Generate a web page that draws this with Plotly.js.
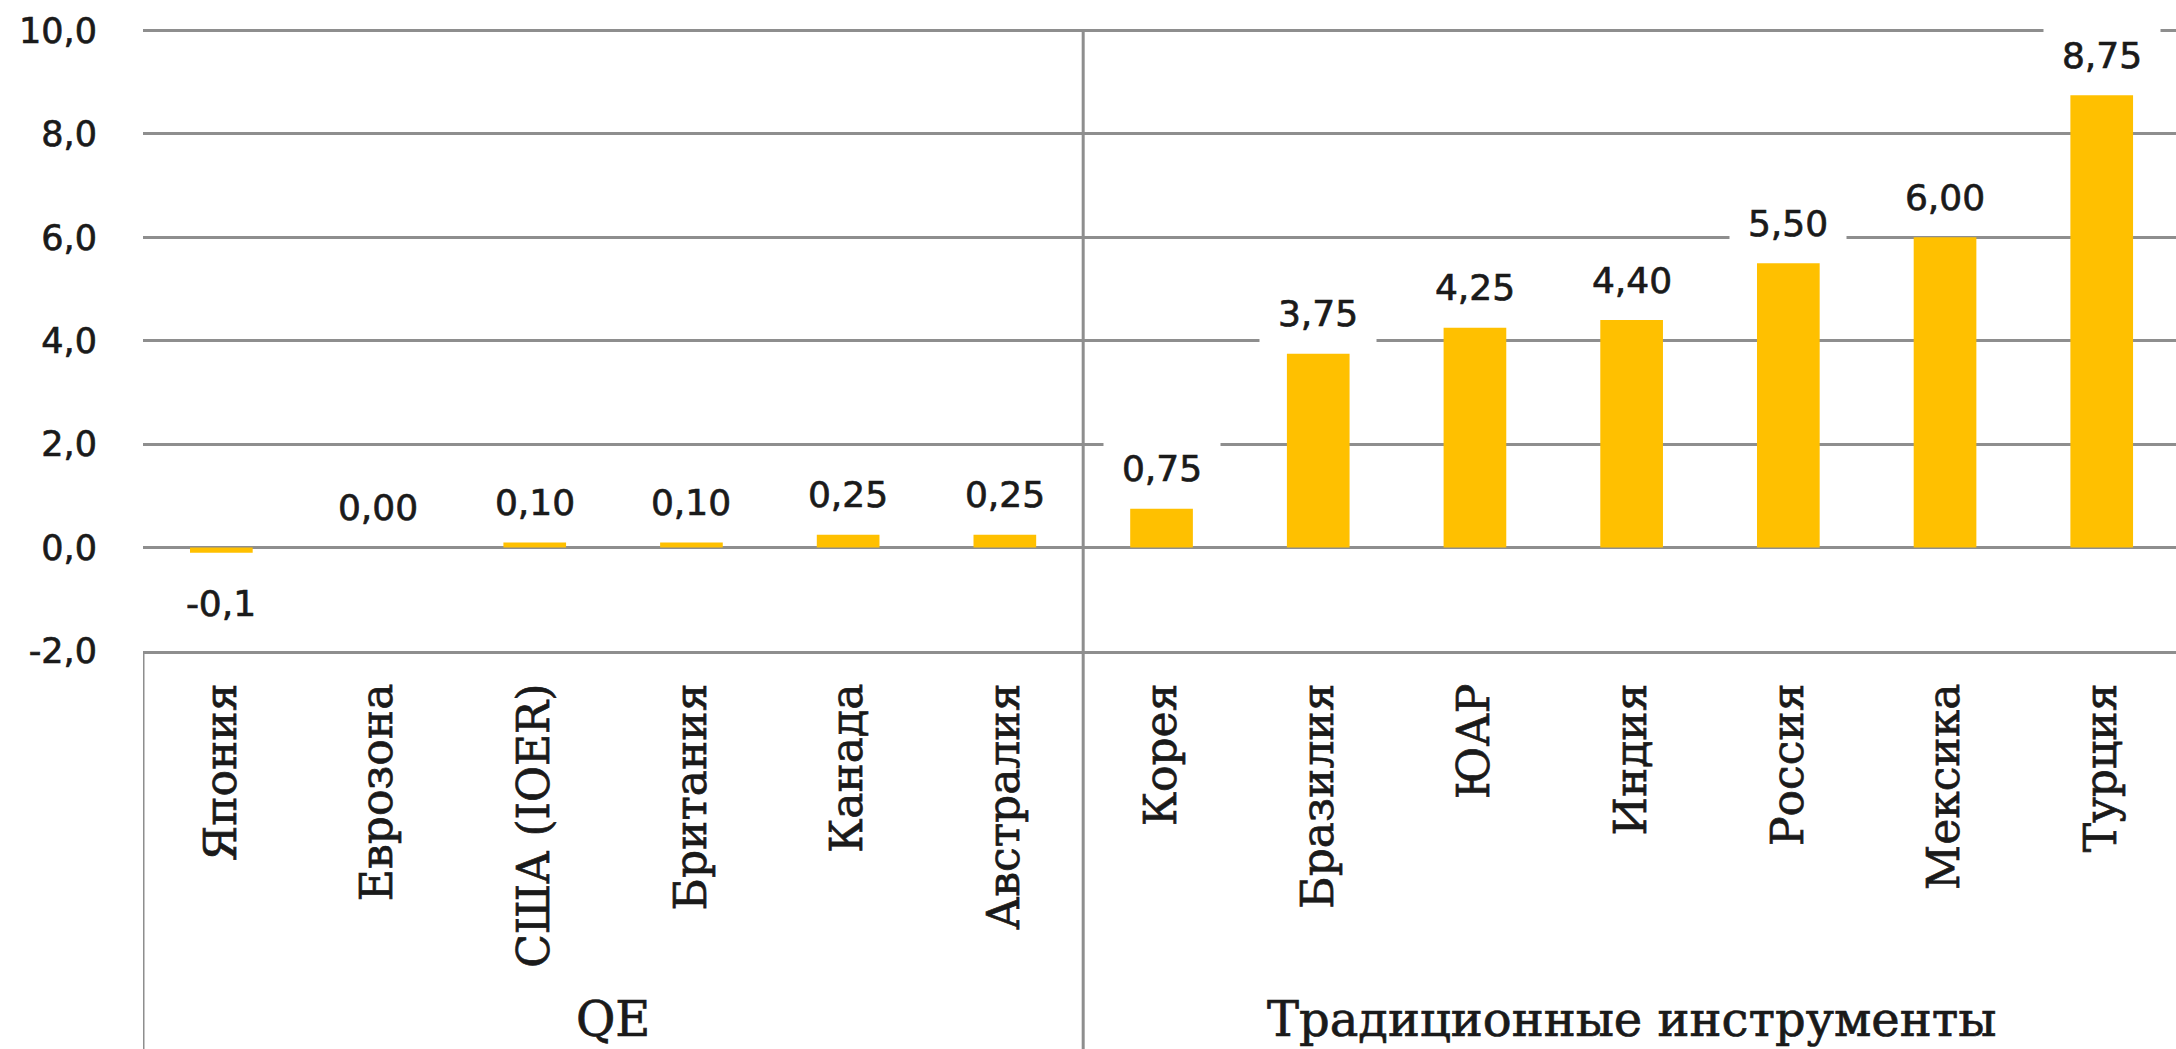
<!DOCTYPE html>
<html>
<head>
<meta charset="utf-8">
<script src="https://cdn.plot.ly/plotly-3.0.1.min.js"></script>
<style>
  html, body { margin: 0; padding: 0; background: #ffffff; }
  #chart { width: 2176px; height: 1049px; }
  #chart text { stroke: #1a1a1a; stroke-width: 0.7px; }
</style>
</head>
<body>
<div id="chart"></div>
<script>
// ---- data ----
const categories = ['Япония', 'Еврозона', 'США (IOER)', 'Британия', 'Канада', 'Австралия',
                    'Корея', 'Бразилия', 'ЮАР', 'Индия', 'Россия', 'Мексика', 'Турция'];
const values = [-0.1, 0.00, 0.10, 0.10, 0.25, 0.25, 0.75, 3.75, 4.25, 4.40, 5.50, 6.00, 8.75];
const valueLabels = ['-0,1', '0,00', '0,10', '0,10', '0,25', '0,25', '0,75', '3,75', '4,25', '4,40', '5,50', '6,00', '8,75'];
const groupNames = ['QE', 'Традиционные инструменты'];
const groupSizes = [6, 7];
const yTicks = [-2, 0, 2, 4, 6, 8, 10];
const yTickText = yTicks.map(v => v.toFixed(1).replace('.', ','));

// ---- styles ----
const barColor = '#FFC000';
const gridColor = '#8e8e8e';
const textColor = '#1a1a1a';

const trace = {
  type: 'bar',
  x: categories,
  y: values,
  marker: { color: barColor, line: { width: 0 } },
  hoverinfo: 'x+y'
};

// data labels with white boxes that break gridlines
const labelAnnotations = categories.map((c, i) => ({
  x: c,
  y: values[i],
  xref: 'x',
  yref: 'y',
  text: valueLabels[i],
  showarrow: false,
  yanchor: 'middle',
  xanchor: 'center',
  yshift: values[i] < 0 ? -51 : 40,
  bgcolor: '#ffffff',
  borderpad: 8,
  width: 100,
  font: { family: 'DejaVu Sans', size: 36, color: textColor }
}));

// group labels centred under each group
let start = 0;
const groupAnnotations = [];
const dividerShapes = [];
groupNames.forEach((g, gi) => {
  const n = groupSizes[gi];
  groupAnnotations.push({
    x: start + (n - 1) / 2,
    y: -0.592,
    xref: 'x',
    yref: 'paper',
    text: g,
    showarrow: false,
    xanchor: 'center',
    yanchor: 'middle',
    font: { family: 'DejaVu Serif', size: 48, color: textColor }
  });
  start += n;
});

// left border of the category box
dividerShapes.push({
  type: 'line', xref: 'x', yref: 'paper',
  x0: -0.5, x1: -0.5, y0: 0, y1: -0.8,
  line: { color: gridColor, width: 3 }, layer: 'above'
});
// divider between groups (through the whole plot)
dividerShapes.push({
  type: 'line', xref: 'x', yref: 'paper',
  x0: groupSizes[0] - 0.5, x1: groupSizes[0] - 0.5, y0: 1, y1: -0.8,
  line: { color: gridColor, width: 3 }, layer: 'below'
});

const layout = {
  width: 2176,
  height: 1049,
  paper_bgcolor: '#ffffff',
  plot_bgcolor: '#ffffff',
  margin: { l: 143, r: 0, t: 29, b: 397.5, pad: 0 },
  separators: ', ',
  showlegend: false,
  bargap: 0.6,
  xaxis: {
    type: 'category',
    range: [-0.5, 12.474],
    showgrid: false,
    zeroline: false,
    showline: true,
    linecolor: gridColor,
    linewidth: 3,
    ticks: '',
    tickangle: -90,
    ticklabelstandoff: 12,
    tickfont: { family: 'DejaVu Serif', size: 44, color: textColor },
    fixedrange: true
  },
  yaxis: {
    range: [-2, 10.03],
    tickvals: yTicks,
    ticktext: yTickText,
    showgrid: true,
    gridcolor: gridColor,
    gridwidth: 3,
    zeroline: true,
    zerolinecolor: gridColor,
    zerolinewidth: 3,
    showline: false,
    ticks: '',
    ticklabelstandoff: 45,
    tickfont: { family: 'DejaVu Sans', size: 35, color: textColor },
    fixedrange: true
  },
  annotations: labelAnnotations.concat(groupAnnotations),
  shapes: dividerShapes
};

Plotly.newPlot('chart', [trace], layout, { displayModeBar: false, staticPlot: true });
</script>
</body>
</html>
